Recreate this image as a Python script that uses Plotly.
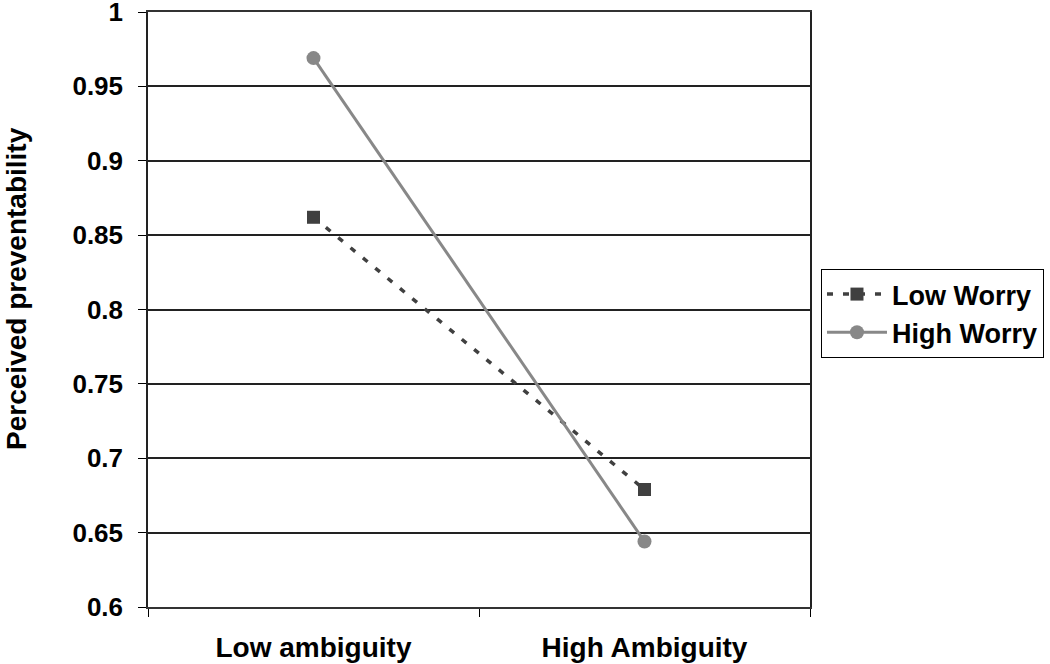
import plotly.graph_objects as go

categories = ["Low ambiguity", "High Ambiguity"]
low_worry = [0.862, 0.679]
high_worry = [0.969, 0.644]
y_ticks = [0.6, 0.65, 0.7, 0.75, 0.8, 0.85, 0.9, 0.95, 1.0]
y_tick_labels = ["0.6", "0.65", "0.7", "0.75", "0.8", "0.85", "0.9", "0.95", "1"]

FONT = "Liberation Sans, Arial, sans-serif"

fig = go.Figure()
fig.add_trace(go.Scatter(
    x=categories, y=low_worry, name="Low Worry", mode="lines+markers",
    line=dict(color="#404040", width=3.5, dash="6px,10px"),
    marker=dict(symbol="square", size=13, color="#404040"),
))
fig.add_trace(go.Scatter(
    x=categories, y=high_worry, name="High Worry", mode="lines+markers",
    line=dict(color="#888888", width=3),
    marker=dict(symbol="circle", size=14, color="#888888"),
))

fig.update_layout(
    width=1050, height=664,
    margin=dict(l=148, r=240, t=12, b=57, autoexpand=False),
    paper_bgcolor="white", plot_bgcolor="white",
    font=dict(family=FONT, size=26, color="black"),
    showlegend=True,
    legend=dict(
        x=1.0166, y=0.568, xanchor="left", yanchor="top",
        bordercolor="black", borderwidth=1,
        font=dict(family=FONT, size=27, color="black", weight="bold"),
        tracegroupgap=0, itemwidth=60,
    ),
    xaxis=dict(
        type="category", range=[-0.5, 1.5], tickson="boundaries",
        ticks="outside", ticklen=8, tickcolor="black", tickwidth=1,
        showline=True, linecolor="#333333", linewidth=2, mirror=True,
        showgrid=False, zeroline=False,
        tickfont=dict(family=FONT, size=28, color="black", weight="bold"),
        ticklabelstandoff=14,
    ),
    yaxis=dict(
        range=[0.6, 1.0], tickvals=y_ticks, ticktext=y_tick_labels,
        ticks="outside", ticklen=8, tickcolor="black", tickwidth=1,
        showline=True, linecolor="#222222", linewidth=1.5, mirror=True,
        showgrid=True, gridcolor="#222222", gridwidth=1.5, zeroline=False,
        tickfont=dict(family=FONT, size=26, color="black", weight="bold"),
        ticklabelstandoff=10, ticklabeloverflow="allow",
    ),
    annotations=[dict(
        text="Perceived preventability", textangle=-90,
        xref="paper", yref="paper", x=-0.199, y=0.535,
        xanchor="center", yanchor="middle", showarrow=False,
        font=dict(family=FONT, size=28, color="black", weight="bold"),
    )],
)

fig.write_html("out.html", config={"displayModeBar": False},
               post_script="document.body.style.margin='0';")
